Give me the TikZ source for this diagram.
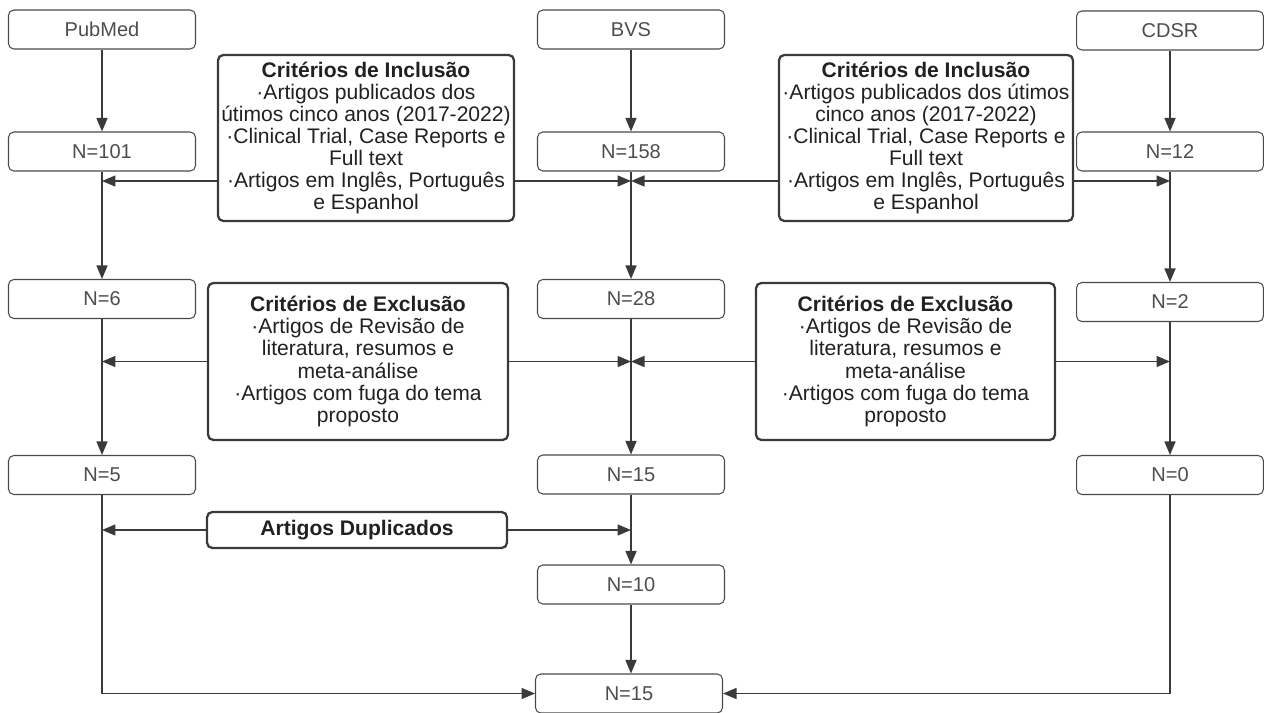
\documentclass[tikz,border=0pt]{standalone}
\usepackage{fontspec}
\setmainfont{Liberation Sans}
\usetikzlibrary{arrows.meta}
\definecolor{edgegray}{HTML}{3A3A3A}
\definecolor{boxgray}{HTML}{4A4A4A}
\definecolor{numgray}{HTML}{4D4D4D}

\begin{document}
\begin{tikzpicture}[x=0.02cm,y=-0.02cm,
  countbox/.style={draw=boxgray,line width=0.6pt,rounded corners=3pt,minimum width=3.74cm,minimum height=0.78cm,inner sep=0pt,text=numgray,font=\fontsize{11.4}{13}\selectfont},
  rulebox/.style={draw=edgegray,line width=1.3pt,rounded corners=3pt,inner sep=0pt,align=center,text=black!87,font=\fontsize{12}{12.6}\selectfont},
  flow/.style={draw=edgegray,line width=0.85pt,-{Triangle[length=0.27cm,width=0.22cm]}}]
\useasboundingbox (0,0) rectangle (1264,713);
\node[countbox] (pubmed) at (102,29.5) {PubMed};
\node[countbox] (bvs) at (631,29.5) {BVS};
\node[countbox] (cdsr) at (1170,30.5) {CDSR};
\node[countbox] (n101) at (102,151.5) {N=101};
\node[countbox] (n158) at (631,151.5) {N=158};
\node[countbox] (n12) at (1170,151.5) {N=12};
\node[countbox] (n6) at (102,299) {N=6};
\node[countbox] (n28) at (631,299) {N=28};
\node[countbox] (n2) at (1170,302) {N=2};
\node[countbox] (n5) at (102,475) {N=5};
\node[countbox] (n15) at (631,474.5) {N=15};
\node[countbox] (n0) at (1170,475) {N=0};
\node[countbox] (n10) at (631,584.5) {N=10};
\node[countbox] (total) at (629,693.5) {N=15};
\node[rulebox,minimum width=5.92cm,minimum height=3.32cm] (incl1) at (366,138) {\textbf{Critérios de Inclusão}\\·Artigos publicados dos\\útimos cinco anos (2017-2022)\\·Clinical Trial, Case Reports e\\Full text\\·Artigos em Inglês, Português\\e Espanhol};
\node[rulebox,minimum width=5.88cm,minimum height=3.32cm] (incl2) at (926,138) {\textbf{Critérios de Inclusão}\\·Artigos publicados dos útimos\\cinco anos (2017-2022)\\·Clinical Trial, Case Reports e\\Full text\\·Artigos em Inglês, Português\\e Espanhol};
\node[rulebox,minimum width=6cm,minimum height=3.14cm] (excl1) at (358,361.5) {\textbf{Critérios de Exclusão}\\·Artigos de Revisão de\\literatura, resumos e\\meta-análise\\·Artigos com fuga do tema\\proposto};
\node[rulebox,minimum width=5.98cm,minimum height=3.14cm] (excl2) at (905.5,361.5) {\textbf{Critérios de Exclusão}\\·Artigos de Revisão de\\literatura, resumos e\\meta-análise\\·Artigos com fuga do tema\\proposto};
\node[rulebox,minimum width=6cm,minimum height=0.72cm] (dup) at (357,530) {\textbf{Artigos Duplicados}};
\coordinate (inclrow) at (0,181);
\draw[flow] (pubmed) -- (n101);
\draw[flow] (n101) -- (n6);
\draw[flow] (n6) -- (n5);
\draw[flow] (bvs) -- (n158);
\draw[flow] (n158) -- (n28);
\draw[flow] (n28) -- (n15);
\draw[flow] (n15) -- (n10);
\draw[flow] (n10.south) -- (n10.south |- total.north);
\draw[flow] (cdsr) -- (n12);
\draw[flow] (n12) -- (n12 |- n2.north);
\draw[flow] (n2) -- (n0);
\draw[flow] (n5.south) |- (total.west);
\draw[flow] (n0.south) |- (total.east);
\draw[flow] (incl1.west |- inclrow) -- (n101 |- inclrow);
\draw[flow] (incl1.east |- inclrow) -- (n158 |- inclrow);
\draw[flow] (incl2.west |- inclrow) -- (n158 |- inclrow);
\draw[flow] (incl2.east |- inclrow) -- (n12 |- inclrow);
\draw[flow] (excl1.west) -- (n6 |- excl1.west);
\draw[flow] (excl1.east) -- (n28 |- excl1.east);
\draw[flow] (excl2.west) -- (n28 |- excl2.west);
\draw[flow] (excl2.east) -- (n2 |- excl2.east);
\draw[flow] (dup.west) -- (n5 |- dup.west);
\draw[flow] (dup.east) -- (n15 |- dup.east);
\end{tikzpicture}
\end{document}
